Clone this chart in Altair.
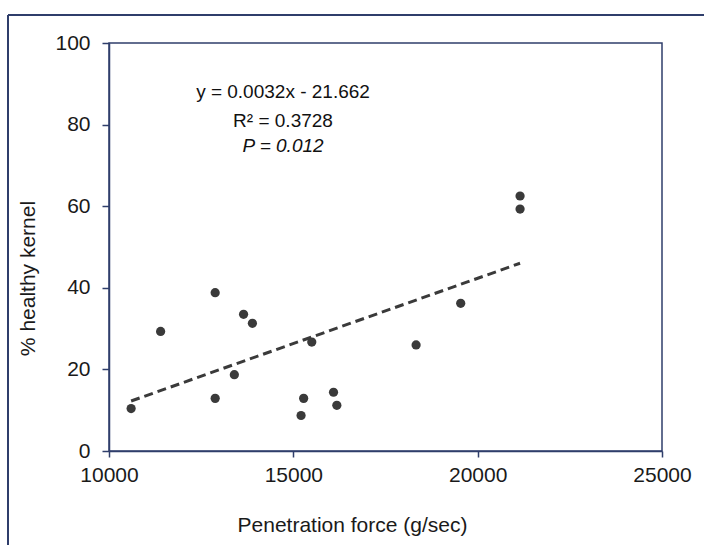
import altair as alt
import pandas as pd

# ---- data ----
force = [10600, 11400, 12880, 12880, 13400, 13650, 13890, 15500, 15280, 15210,
         16090, 16180, 18330, 19540, 21150, 21150]
healthy = [10.4, 29.3, 38.8, 12.9, 18.7, 33.5, 31.3, 26.7, 12.9, 8.7,
           14.4, 11.2, 26.0, 36.2, 62.5, 59.3]
slope = 0.0032
intercept = -21.662
eq_lines = ["y = 0.0032x - 21.662", "R² = 0.3728", "P = 0.012"]
x_ticks = [10000, 15000, 20000, 25000]
y_ticks = [0, 20, 40, 60, 80, 100]

NAVY = "#2f3e6b"
DARK = "#3a3a3a"
TXT = "#1a1a1a"
FONT = "Liberation Sans"

df = pd.DataFrame({"force": force, "healthy": healthy})
trend = pd.DataFrame({"force": [min(force), max(force)]})
trend["healthy"] = slope * trend["force"] + intercept
one = pd.DataFrame({"k": [0]})

xs = alt.Scale(domain=[10000, 25000], nice=False, zero=False)
ys = alt.Scale(domain=[0, 100], nice=False, zero=False)

common = dict(grid=False, domainColor=NAVY, domainWidth=1.5, tickColor=NAVY, tickWidth=1.5,
              labelFont=FONT, labelFontSize=21, labelColor=TXT, labelFlush=False,
              labelOverlap=False,
              titleFont=FONT, titleFontSize=21, titleFontWeight="normal", titleColor=TXT)

xaxis = alt.Axis(values=x_ticks, title="Penetration force (g/sec)",
                 tickSize=6, labelPadding=7, titlePadding=29, titleX=243,
                 format="d", **common)
yaxis = alt.Axis(values=y_ticks, title="% healthy kernel",
                 tickSize=7, labelPadding=12, titlePadding=16, titleY=235, **common)

points = alt.Chart(df).mark_circle(size=85, color=DARK, opacity=1).encode(
    x=alt.X("force:Q", scale=xs, axis=xaxis),
    y=alt.Y("healthy:Q", scale=ys, axis=yaxis),
)

line = alt.Chart(trend).mark_line(color=DARK, strokeWidth=3, strokeDash=[9, 5]).encode(
    x=alt.X("force:Q", scale=xs),
    y=alt.Y("healthy:Q", scale=ys),
)

def label(txt, ypix, italic=False):
    kw = dict(fontSize=19, font=FONT, color="#111111", align="center", baseline="alphabetic")
    if italic:
        kw["fontStyle"] = "italic"
    return alt.Chart(one).mark_text(text=txt, **kw).encode(x=alt.value(174), y=alt.value(ypix))

t1 = label(eq_lines[0], 55)
t2 = label(eq_lines[1], 84)
t3 = label(eq_lines[2], 109, italic=True)

# outer frame (left and top edges visible in the reference)
frame_left = alt.Chart(one).mark_rule(color=NAVY, strokeWidth=2).encode(
    x=alt.value(-101), y=alt.value(-28), y2=alt.value(520))
frame_top = alt.Chart(one).mark_rule(color=NAVY, strokeWidth=2).encode(
    x=alt.value(-101), x2=alt.value(620), y=alt.value(-28))

chart = alt.layer(frame_left, frame_top, line, points, t1, t2, t3).properties(
    width=553, height=408,
    autosize=alt.AutoSizeParams(type="none"),
    padding={"left": 109, "top": 43, "right": 42, "bottom": 94},
    background="white",
).configure(font=FONT).configure_view(
    stroke=NAVY, strokeWidth=1.5
)

chart.save("out.html", embed_options={"renderer": "svg", "actions": False})
